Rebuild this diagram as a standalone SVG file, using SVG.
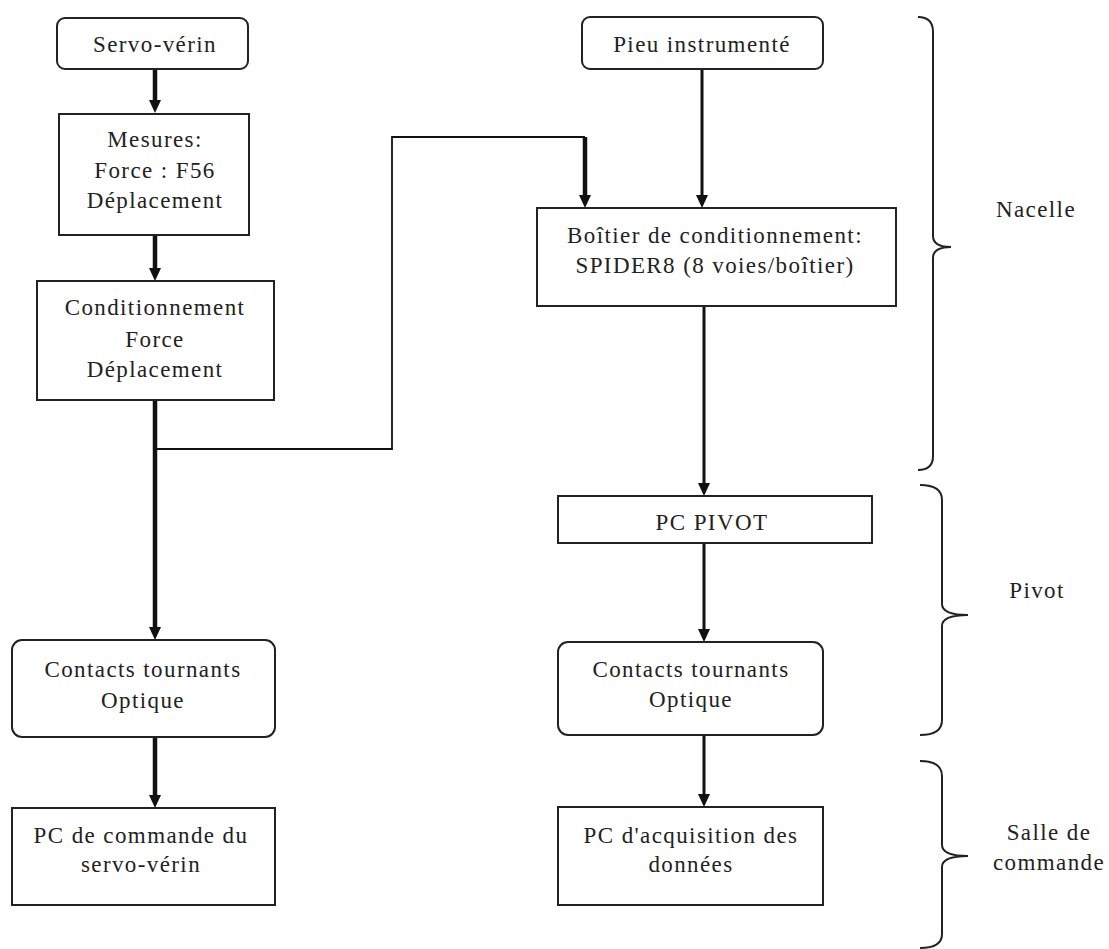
<svg xmlns="http://www.w3.org/2000/svg" width="1109" height="949" viewBox="0 0 1109 949">
<style>
.box{fill:#fff;stroke:#222;stroke-width:2}
text{font-family:"Liberation Serif","Times New Roman",serif;font-size:23px;letter-spacing:1.4px;fill:#222;text-anchor:middle}
.thick{stroke:#111;stroke-width:4.5;fill:none}
.med{stroke:#111;stroke-width:3;fill:none}
.thin{stroke:#111;stroke-width:1.8;fill:none}
.brace{stroke:#222;stroke-width:2;fill:none}
.head{fill:#111}
</style>
<rect width="1109" height="949" fill="#fff"/>
<g id="connectors">
<line class="thick" x1="155" y1="69" x2="155" y2="103"/>
<path class="head" d="M149,100 L161,100 L155,113 Z"/>
<line class="thick" x1="155" y1="235" x2="155" y2="270"/>
<path class="head" d="M149,268 L161,268 L155,281 Z"/>
<line class="thick" x1="155" y1="400" x2="155" y2="630"/>
<path class="head" d="M149,627 L161,627 L155,640 Z"/>
<line class="thick" x1="155" y1="737" x2="155" y2="797"/>
<path class="head" d="M149,795 L161,795 L155,808 Z"/>
<polyline class="thin" points="155,449 392,449 392,137 585,137"/>
<line class="thick" x1="585" y1="137" x2="585" y2="198"/>
<path class="head" d="M579,195 L591,195 L585,208 Z"/>
<line class="med" x1="702" y1="69" x2="702" y2="198"/>
<path class="head" d="M696,195 L708,195 L702,208 Z"/>
<line class="med" x1="704" y1="306" x2="704" y2="486"/>
<path class="head" d="M698,483 L710,483 L704,496 Z"/>
<line class="med" x1="704" y1="543" x2="704" y2="632"/>
<path class="head" d="M698,629 L710,629 L704,642 Z"/>
<line class="med" x1="704" y1="735" x2="704" y2="797"/>
<path class="head" d="M698,794 L710,794 L704,807 Z"/>
</g>
<g id="servo-verin">
<rect class="box" x="57" y="18" width="191" height="51" rx="8"/>
<text x="155" y="52">Servo-vérin</text>
</g>
<g id="mesures">
<rect class="box" x="59" y="114" width="190" height="121"/>
<text x="155" y="147">Mesures:</text>
<text x="155" y="178">Force : F56</text>
<text x="155" y="208">Déplacement</text>
</g>
<g id="conditionnement">
<rect class="box" x="37" y="281" width="237" height="119"/>
<text x="155" y="315">Conditionnement</text>
<text x="155" y="347">Force</text>
<text x="155" y="377">Déplacement</text>
</g>
<g id="contacts-left">
<rect class="box" x="12" y="640" width="263" height="97" rx="10"/>
<text x="143" y="677">Contacts tournants</text>
<text x="143" y="708">Optique</text>
</g>
<g id="pc-commande">
<rect class="box" x="12" y="808" width="263" height="97"/>
<text x="141" y="843">PC de commande du</text>
<text x="141" y="872">servo-vérin</text>
</g>
<g id="pieu">
<rect class="box" x="582" y="17" width="241" height="52" rx="8"/>
<text x="702" y="52">Pieu instrumenté</text>
</g>
<g id="boitier">
<rect class="box" x="537" y="208" width="359" height="98"/>
<text x="715" y="243">Boîtier de conditionnement:</text>
<text x="715" y="273">SPIDER8 (8 voies/boîtier)</text>
</g>
<g id="pc-pivot">
<rect class="box" x="558" y="496" width="314" height="47"/>
<text x="712" y="530">PC PIVOT</text>
</g>
<g id="contacts-right">
<rect class="box" x="558" y="642" width="265" height="93" rx="10"/>
<text x="691" y="677">Contacts tournants</text>
<text x="691" y="707">Optique</text>
</g>
<g id="pc-acquisition">
<rect class="box" x="558" y="807" width="265" height="98"/>
<text x="691" y="843">PC d'acquisition des</text>
<text x="691" y="872">données</text>
</g>
<g id="nacelle">
<path class="brace" d="M918,17 Q933,17 933,32 L933,236 Q933,247 951,247 Q933,247 933,258 L933,456 Q933,470 918,470"/>
<text x="1036" y="217">Nacelle</text>
</g>
<g id="pivot">
<path class="brace" d="M920,485 Q942,485 942,500 L942,604 Q942,615 968,615 Q942,615 942,626 L942,720 Q942,735 920,735"/>
<text x="1037" y="598">Pivot</text>
</g>
<g id="salle">
<path class="brace" d="M920,761 Q942,761 942,776 L942,845 Q942,856 968,856 Q942,856 942,867 L942,934 Q942,948 920,948"/>
<text x="1049" y="840">Salle de</text>
<text x="1049" y="870">commande</text>
</g>
</svg>
